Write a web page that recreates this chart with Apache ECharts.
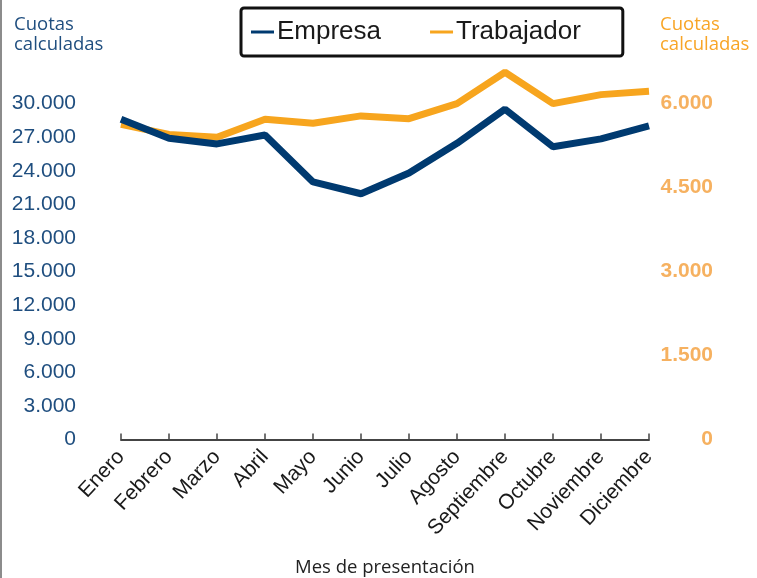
<!DOCTYPE html>
<html>
<head>
<meta charset="utf-8">
<script src="https://cdn.jsdelivr.net/npm/echarts@6/dist/echarts.min.js"></script>
<style>
  html, body { margin: 0; padding: 0; background: #fff; }
  #chart { width: 757px; height: 578px; }
</style>
</head>
<body>
<div id="chart"></div>
<script>
// meses del eje x
var meses = ['Enero', 'Febrero', 'Marzo', 'Abril', 'Mayo', 'Junio', 'Julio',
  'Agosto', 'Septiembre', 'Octubre', 'Noviembre', 'Diciembre']
// cuotas calculadas (eje izquierdo)
var empresa = [28600, 26900, 26400, 27200, 23000, 21950, 23800, 26450, 29500, 26150, 26850, 28000]
// cuotas calculadas (eje derecho)
var trabajador = [5630, 5450, 5400, 5720, 5650, 5780, 5730, 6000, 6560, 6000, 6160, 6220]

var azul = '#003a70'
var naranja = '#f7a51e'

function fmt (v) {
  return String(v).replace(/\B(?=(\d{3})+(?!\d))/g, '.')
}

var chart = echarts.init(document.getElementById('chart'))
var option = {
  animation: false,
  grid: { left: 121, right: 108, top: 70, bottom: 138.5, outerBoundsMode: 'none' },
  graphic: [
    { type: 'rect', left: 0, top: 0, shape: { width: 2, height: 578 }, style: { fill: '#8c8c8c' } },
    {
      type: 'text', left: 14, top: 15,
      style: { text: 'Cuotas\ncalculadas', fill: '#1f4e7f', font: '18.5px "Open Sans"', lineHeight: 20 }
    },
    {
      type: 'text', left: 660, top: 15,
      style: { text: 'Cuotas\ncalculadas', fill: '#f8a526', font: '18.5px "Open Sans"', lineHeight: 20 }
    }
  ],
  legend: {
    left: 241, top: 8,
    padding: [11, 42, 11, 10],
    borderColor: '#111',
    borderWidth: 3,
    borderRadius: 3,
    icon: 'rect',
    itemWidth: 23,
    itemHeight: 3,
    itemGap: 49,
    textStyle: { fontSize: 26, color: '#1a1a1a', fontFamily: 'Liberation Sans', padding: [0, 0, 0, -2] },
    data: ['Empresa', 'Trabajador']
  },
  xAxis: {
    type: 'category',
    data: meses,
    boundaryGap: false,
    name: 'Mes de presentación',
    nameLocation: 'middle',
    nameGap: 119,
    nameTextStyle: { fontSize: 18.5, color: '#222', fontFamily: 'Open Sans' },
    axisLine: { lineStyle: { color: '#444', width: 2 } },
    axisTick: { inside: true, length: 6, lineStyle: { color: '#444', width: 1.5 } },
    axisLabel: { rotate: 47, margin: 14, fontSize: 21, color: '#1a1a1a', fontFamily: 'Liberation Sans' },
    splitLine: { show: false }
  },
  yAxis: [
    {
      type: 'value', min: 0, max: 33000, interval: 3000,
      axisLine: { show: false }, axisTick: { show: false }, splitLine: { show: false },
      axisLabel: {
        margin: 45, fontSize: 21, color: '#1f4e7f', fontFamily: 'Liberation Sans',
        formatter: function (v) { return v > 30000 ? '' : fmt(v) }
      }
    },
    {
      type: 'value', min: 0, max: 6600, interval: 1500,
      axisLine: { show: false }, axisTick: { show: false }, splitLine: { show: false },
      axisLabel: {
        margin: 64, align: 'right', fontSize: 21, fontWeight: 'bold', color: '#f6b160',
        fontFamily: 'Liberation Sans',
        formatter: function (v) { return v > 6000 ? '' : fmt(v) }
      }
    }
  ],
  series: [
    {
      name: 'Empresa', type: 'line', yAxisIndex: 0, data: empresa,
      showSymbol: false, symbol: 'none', z: 3,
      lineStyle: { color: azul, width: 7 }, itemStyle: { color: azul }
    },
    {
      name: 'Trabajador', type: 'line', yAxisIndex: 1, data: trabajador,
      showSymbol: false, symbol: 'none', z: 2,
      lineStyle: { color: naranja, width: 7 }, itemStyle: { color: naranja }
    }
  ]
}
chart.setOption(option)
</script>
</body>
</html>
